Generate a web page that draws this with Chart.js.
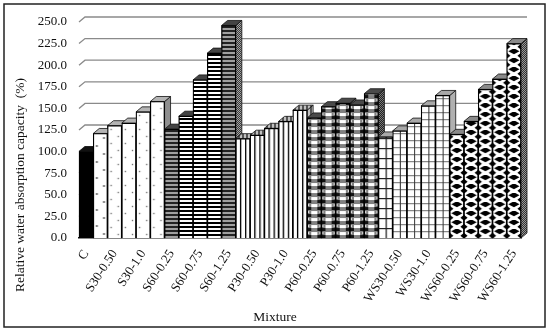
<!DOCTYPE html>
<html>
<head>
<meta charset="utf-8">
<style>
  html, body { margin: 0; padding: 0; background: #fff; }
  canvas { display: block; }
</style>
<script src="https://cdn.jsdelivr.net/npm/chart.js@4"></script>
</head>
<body>
<canvas id="c" width="550" height="331"></canvas>
<script>
// ---- data ----
const categories = ["C",
  "S30-0.25", "S30-0.50", "S30-0.75", "S30-1.0", "S30-1.25",
  "S60-0.25", "S60-0.50", "S60-0.75", "S60-1.0", "S60-1.25",
  "P30-0.25", "P30-0.50", "P30-0.75", "P30-1.0", "P30-1.25",
  "P60-0.25", "P60-0.50", "P60-0.75", "P60-1.0", "P60-1.25",
  "WS30-0.25", "WS30-0.50", "WS30-0.75", "WS30-1.0", "WS30-1.25",
  "WS60-0.25", "WS60-0.50", "WS60-0.75", "WS60-1.0", "WS60-1.25"];
const capacity = [100,
  121, 130, 133, 146, 158,
  126, 141, 183, 214, 246,
  115, 119, 127, 135, 148,
  139, 152, 156, 154, 167,
  117, 124, 133, 153, 165,
  120, 135, 172, 184, 225];
const yTicks = [0, 25, 50, 75, 100, 125, 150, 175, 200, 225, 250];
const yTitle = "Relative water absorption capacity  (%)";
const xTitle = "Mixture";

// fake 3D depth of the bars and the back wall
const DX = 6, DY = 5;
const FONT = "'Liberation Serif', serif";

// ---- hatch tiles ----
function tile(w, h, paint) {
  const t = document.createElement("canvas");
  t.width = w; t.height = h;
  const g = t.getContext("2d");
  g.fillStyle = "#fff";
  g.fillRect(0, 0, w, h);
  paint(g);
  return t;
}
function diamond(g, x, y, rx, ry) {
  g.beginPath();
  g.moveTo(x - rx, y); g.lineTo(x, y - ry); g.lineTo(x + rx, y); g.lineTo(x, y + ry);
  g.closePath(); g.fill();
}
function dots(w, h, r, col) {
  return tile(w, h, (g) => {
    g.fillStyle = col;
    g.fillRect(w / 4 - r / 2, h / 4 - r / 2, r, r);
    g.fillRect((3 * w) / 4 - r / 2, (3 * h) / 4 - r / 2, r, r);
  });
}
function hstripes(col, bg) {
  return tile(14, 4, (g) => {
    g.fillStyle = bg; g.fillRect(0, 2, 14, 2);
    g.fillStyle = col; g.fillRect(0, 0, 14, 2);
  });
}
function dither(a, b) {
  return tile(2, 2, (g) => {
    g.fillStyle = a; g.fillRect(0, 0, 2, 2);
    g.fillStyle = b; g.fillRect(0, 0, 1, 1); g.fillRect(1, 1, 1, 1);
  });
}
function vbars(a, b) {
  return tile(4, 2, (g) => {
    g.fillStyle = a; g.fillRect(0, 0, 4, 2);
    g.fillStyle = b; g.fillRect(0, 0, 2, 2);
  });
}
const Tiles = {
  solid: tile(4, 4, (g) => { g.fillStyle = "#000"; g.fillRect(0, 0, 4, 4); }),
  bigDots: dots(14, 16, 1.6, "#333"),
  smallDots: dots(14, 14, 1.4, "#777"),
  stripesGrey: hstripes("#222", "#a0a0a0"),
  stripesWhite: hstripes("#000", "#fff"),
  vlines: tile(14, 4, (g) => { g.fillStyle = "#000"; [4, 9].forEach((x) => g.fillRect(x, 0, 1.3, 4)); }),
  weave: tile(14, 7, (g) => {
    g.fillStyle = "#808080"; g.fillRect(0, 0, 14, 7);
    g.fillStyle = "#fff"; g.fillRect(4, 1, 6, 3);
    g.fillStyle = "#111"; g.fillRect(0, 4, 4, 3); g.fillRect(10, 4, 4, 3);
    g.fillStyle = "#ddd"; g.fillRect(0, 1, 2, 2); g.fillRect(12, 1, 2, 2);
  }),
  gridCoarse: tile(14, 10, (g) => {
    g.fillStyle = "#222"; g.fillRect(0, 0, 14, 1.2); g.fillRect(7, 0, 1.2, 10);
  }),
  gridFine: tile(14, 7, (g) => {
    g.fillStyle = "#888"; g.fillRect(0, 0, 14, 1.2);
    g.fillStyle = "#333"; g.fillRect(7, 0, 1, 7);
  }),
  diamonds: tile(14, 9, (g) => {
    g.fillStyle = "#000";
    diamond(g, 7, 2.25, 5.5, 3);
    diamond(g, 0, 6.75, 3.5, 3);
    diamond(g, 14, 6.75, 3.5, 3);
  }),
  sideS60: dither("#3a3a3a", "#a5a5a5"),
  sideP60: dither("#222", "#777"),
  sideWS60: dither("#333", "#999"),
  topP30: vbars("#555", "#c0c0c0"),
};

// per group: hatch for the front, fills of the top and side face
function groupStyle(i) {
  if (i === 0) return { front: "solid", top: "#111", side: "#000" };
  if (i <= 5) return { front: i === 1 ? "bigDots" : "smallDots", top: "#b4b4b4", side: "#8f8f8f" };
  if (i <= 10) return { front: i === 6 || i === 10 ? "stripesGrey" : "stripesWhite", top: "#444", side: "sideS60" };
  if (i <= 15) return { front: "vlines", top: "topP30", side: "topP30" };
  if (i <= 20) return { front: "weave", top: "#4a4a4a", side: "sideP60" };
  if (i <= 25) return { front: i === 21 ? "gridCoarse" : "gridFine", top: "#a8a8a8", side: "#b0b0b0" };
  return { front: "diamonds", top: "#8a8a8a", side: "sideWS60" };
}

const ctx = document.getElementById("c").getContext("2d");
const barFill = categories.map((_, i) => {
  const p = ctx.createPattern(Tiles[groupStyle(i).front], "repeat");
  // keep the hatches lined up with the bars, which are not a whole number of px wide
  p.setTransform(new DOMMatrix().translate(79, 238).scale(442 / 31 / 14, 1));
  return p;
});

function faceFill(name) {
  return Tiles[name] ? ctx.createPattern(Tiles[name], "repeat") : name;
}

function face(c, pts, fill) {
  c.beginPath();
  pts.forEach((p, i) => (i ? c.lineTo(p[0], p[1]) : c.moveTo(p[0], p[1])));
  c.closePath();
  c.fillStyle = faceFill(fill);
  c.fill();
  c.stroke();
}

// ---- plugin: frame, back-wall grid, extruded faces, axis titles ----
const fake3d = {
  id: "fake3d",
  beforeDatasetsDraw(chart) {
    const c = chart.ctx, y = chart.scales.y, a = chart.chartArea;
    c.save();
    c.strokeStyle = "#222";
    c.lineWidth = 1.5;
    c.strokeRect(4, 4, 541, 323);
    c.strokeStyle = "#8a8a8a";
    c.lineWidth = 1.3;
    yTicks.slice(1).forEach((v) => {
      const py = y.getPixelForValue(v);
      c.beginPath();
      c.moveTo(a.left, py);
      c.lineTo(a.left + DX, py - DY);
      c.lineTo(a.right + DX, py - DY);
      c.stroke();
    });
    c.restore();
  },
  afterDatasetsDraw(chart) {
    const c = chart.ctx, meta = chart.getDatasetMeta(0), base = chart.scales.y.getPixelForValue(0);
    c.save();
    c.strokeStyle = "#111";
    c.lineWidth = 0.8;
    // left to right, so each bar covers the side face of the one before it
    meta.data.forEach((bar, i) => {
      const st = groupStyle(i);
      const l = bar.x - bar.width / 2, r = bar.x + bar.width / 2, t = bar.y;
      face(c, [[r, t], [r + DX, t - DY], [r + DX, base - DY], [r, base]], st.side);
      face(c, [[l, t], [l + DX, t - DY], [r + DX, t - DY], [r, t]], st.top);
      bar.draw(c);
    });
    c.restore();
    c.save();
    c.fillStyle = "#111";
    c.font = "13.5px " + FONT;
    c.textAlign = "center";
    c.textBaseline = "middle";
    c.fillText(xTitle, 275, 317);
    c.translate(20, 185);
    c.rotate(-Math.PI / 2);
    c.fillText(yTitle, 0, 0);
    c.restore();
  },
};

new Chart(ctx, {
  type: "bar",
  data: {
    labels: categories,
    datasets: [{
      data: capacity,
      backgroundColor: barFill,
      borderColor: "#000",
      borderWidth: 1.2,
      barPercentage: 1,
      categoryPercentage: 1,
    }],
  },
  options: {
    responsive: false,
    animation: false,
    layout: { padding: { top: 22, right: 29, left: 0, bottom: 0 } },
    plugins: { legend: { display: false }, tooltip: { enabled: false } },
    scales: {
      x: {
        grid: { display: false },
        border: { color: "#111", width: 1.5 },
        afterFit: (s) => { s.height = 93; },
        ticks: {
          autoSkip: false,
          minRotation: 57,
          maxRotation: 57,
          padding: 1,
          color: "#111",
          font: { family: FONT, size: 13 },
          callback: (v, i) => (i % 2 === 0 ? categories[i] : ""),
        },
      },
      y: {
        min: 0,
        max: 250,
        grid: { display: false, drawTicks: false },
        border: { display: false },
        afterFit: (s) => { s.width = 79; },
        afterBuildTicks: (s) => { s.ticks = yTicks.map((value) => ({ value })); },
        ticks: {
          padding: 12,
          color: "#111",
          font: { family: FONT, size: 13 },
          callback: (v) => v.toFixed(1),
        },
      },
    },
  },
  plugins: [fake3d],
});
</script>
</body>
</html>
